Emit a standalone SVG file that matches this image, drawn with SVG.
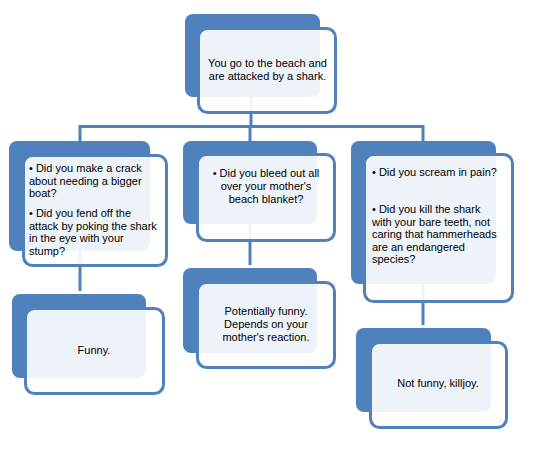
<svg xmlns="http://www.w3.org/2000/svg" width="544" height="455" viewBox="0 0 544 455">
<style>
.back{fill:#4F81BD;}
.front{fill:#FFFFFF;fill-opacity:0.9;stroke:#4F81BD;stroke-width:3;}
.conn{stroke:#4F81BD;stroke-width:3;fill:none;}
text{font-family:"Liberation Sans",Arial,sans-serif;font-size:11px;fill:#000;}
.c{text-anchor:middle;}
</style>
<rect width="544" height="455" fill="#FFFFFF"/>
<g id="connectors">
<path class="conn" d="M251,97 V126.5 M80,126.5 H423 M80,125 V141 M250,125 V141 M423,125 V141"/>
<path class="conn" d="M80,251 V291"/>
<path class="conn" d="M250,224 V265"/>
<path class="conn" d="M423,284 V325"/>
</g>
<g id="node-top">
<rect class="back" x="185" y="14" width="135" height="83" rx="8"/>
<rect class="front" x="198.5" y="28.5" width="137" height="84" rx="9"/>
<text class="c" x="267.5" y="67">You go to the beach and</text>
<text class="c" x="267.5" y="80">are attacked by a shark.</text>
</g>
<g id="node-left">
<rect class="back" x="9" y="141" width="141" height="110" rx="8"/>
<rect class="front" x="23.5" y="155.5" width="143" height="110" rx="9"/>
<text x="29" y="172">• Did you make a crack</text>
<text x="29" y="184.5">about needing a bigger</text>
<text x="29" y="197">boat?</text>
<text x="29" y="217">• Did you fend off the</text>
<text x="29" y="229.5">attack by poking the shark</text>
<text x="29" y="242">in the eye with your</text>
<text x="29" y="254.5">stump?</text>
</g>
<g id="node-middle">
<rect class="back" x="183" y="141" width="134" height="83" rx="8"/>
<rect class="front" x="197.5" y="154.5" width="137" height="86" rx="9"/>
<text class="c" x="266" y="177">• Did you bleed out all</text>
<text class="c" x="266" y="190">over your mother's</text>
<text class="c" x="266" y="203">beach blanket?</text>
</g>
<g id="node-right">
<rect class="back" x="351" y="141" width="145" height="143" rx="8"/>
<rect class="front" x="364.5" y="154.5" width="148" height="147" rx="9"/>
<text x="372" y="176">• Did you scream in pain?</text>
<text x="372" y="213">• Did you kill the shark</text>
<text x="372" y="225.5">with your bare teeth, not</text>
<text x="372" y="238">caring that hammerheads</text>
<text x="372" y="250.5">are an endangered</text>
<text x="372" y="263">species?</text>
</g>
<g id="node-funny">
<rect class="back" x="12" y="294" width="134" height="84" rx="8"/>
<rect class="front" x="25.5" y="308.5" width="138" height="85" rx="9"/>
<text class="c" x="94" y="354">Funny.</text>
</g>
<g id="node-potentially">
<rect class="back" x="183" y="268" width="134" height="85" rx="8"/>
<rect class="front" x="197.5" y="282.5" width="137" height="85" rx="9"/>
<text class="c" x="266" y="315">Potentially funny.</text>
<text class="c" x="266" y="328">Depends on your</text>
<text class="c" x="266" y="341">mother's reaction.</text>
</g>
<g id="node-notfunny">
<rect class="back" x="356" y="328" width="135" height="84" rx="8"/>
<rect class="front" x="370.5" y="342.5" width="136" height="85" rx="9"/>
<text class="c" x="438" y="387">Not funny, killjoy.</text>
</g>
</svg>
